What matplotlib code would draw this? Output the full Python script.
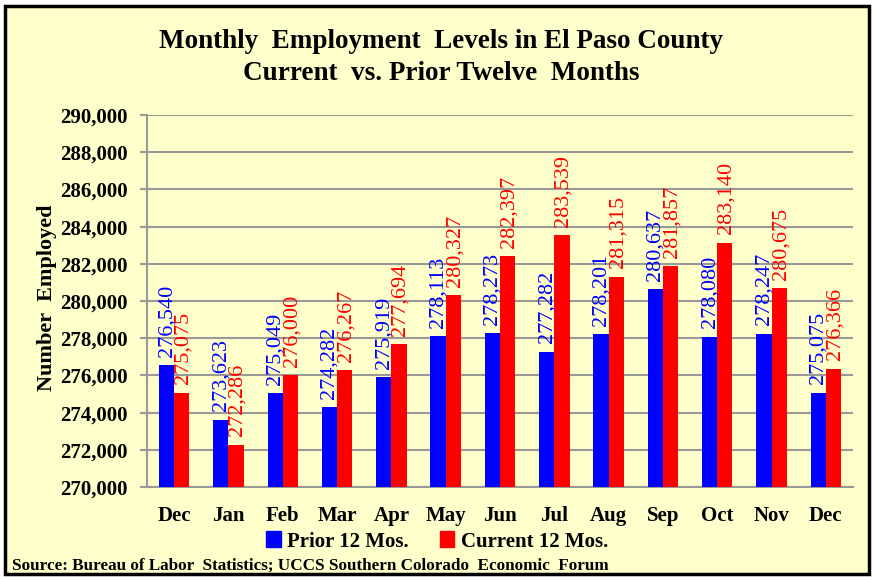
import matplotlib.pyplot as plt
from matplotlib.patches import Patch, Rectangle

months = ['Dec', 'Jan', 'Feb', 'Mar', 'Apr', 'May', 'Jun', 'Jul', 'Aug', 'Sep', 'Oct', 'Nov', 'Dec']
prior = [276540, 273623, 275049, 274282, 275919, 278113, 278273, 277282, 278201, 280637, 278080, 278247, 275075]
current = [275075, 272286, 276000, 276267, 277694, 280327, 282397, 283539, 281315, 281857, 283140, 280675, 276366]

plt.rcParams['font.family'] = ['Liberation Serif', 'DejaVu Serif']

bg = '#FFFFCC'
fig = plt.figure(figsize=(8.74, 5.78), dpi=100, facecolor='white')
fig.patches.append(Rectangle((0.006, 0.007), 0.988, 0.982, transform=fig.transFigure,
                             facecolor=bg, edgecolor='black', linewidth=2.5, zorder=-10))

ax = fig.add_axes([0.1682, 0.1574, 0.8078, 0.6436])
ax.set_facecolor(bg)

x = list(range(len(months)))
w = 0.28
ax.bar([i - w / 2 for i in x], prior, width=w, color='#0000FF', zorder=3)
ax.bar([i + w / 2 for i in x], current, width=w, color='#FF0000', zorder=3)

# value labels, rotated like the original (they overlap there too)
for i in x:
    ax.annotate(f'{prior[i]:,}', (i - w / 2, prior[i]), xytext=(0, 6), textcoords='offset points',
                rotation=90, ha='center', va='bottom', color='#0000FF', fontsize=16, zorder=4)
    ax.annotate(f'{current[i]:,}', (i + w / 2, current[i]), xytext=(1, 6), textcoords='offset points',
                rotation=90, ha='center', va='bottom', color='#FF0000', fontsize=16, zorder=4)

ax.set_xlim(-0.5, len(months) - 0.5)
ax.set_ylim(270000, 290000)
ax.set_yticks(range(270000, 290001, 2000))
ax.yaxis.set_major_formatter(plt.FuncFormatter(lambda v, p: f'{int(v):,}'))
ax.set_xticks(x)
ax.set_xticklabels(months)

ax.grid(axis='y', color='#999999', linewidth=1.5, zorder=0)
ax.set_axisbelow(True)
for s in ['top', 'right']:
    ax.spines[s].set_visible(False)
for s in ['left', 'bottom']:
    ax.spines[s].set_color('#999999')
    ax.spines[s].set_linewidth(1.5)

ax.tick_params(axis='y', length=5, width=1.5, color='#999999', pad=9, labelsize=15)
ax.tick_params(axis='x', length=0, pad=14, labelsize=15)
for lbl in ax.get_xticklabels() + ax.get_yticklabels():
    lbl.set_fontweight('bold')

ax.set_ylabel('Number  Employed', fontsize=16, fontweight='bold')
ax.yaxis.set_label_coords(-0.127, 0.51)

fig.text(0.505, 0.9, 'Monthly  Employment  Levels in El Paso County\nCurrent  vs. Prior Twelve  Months',
         ha='center', va='center', fontsize=19.5, fontweight='bold', linespacing=1.38)

handles = [Patch(color='#0000FF'), Patch(color='#FF0000')]
fig.legend(handles, ['Prior 12 Mos.', 'Current 12 Mos.'], loc='center', bbox_to_anchor=(0.5, 0.063),
           ncol=2, frameon=False, prop={'weight': 'bold', 'size': 15},
           handlelength=0.7, handleheight=0.8, handletextpad=0.3, columnspacing=1.5)

fig.text(0.014, 0.021, 'Source: Bureau of Labor  Statistics; UCCS Southern Colorado  Economic  Forum',
         ha='left', va='center', fontsize=12.3, fontweight='bold')

plt.savefig('out.png', dpi=100, facecolor=fig.get_facecolor())
plt.close()
